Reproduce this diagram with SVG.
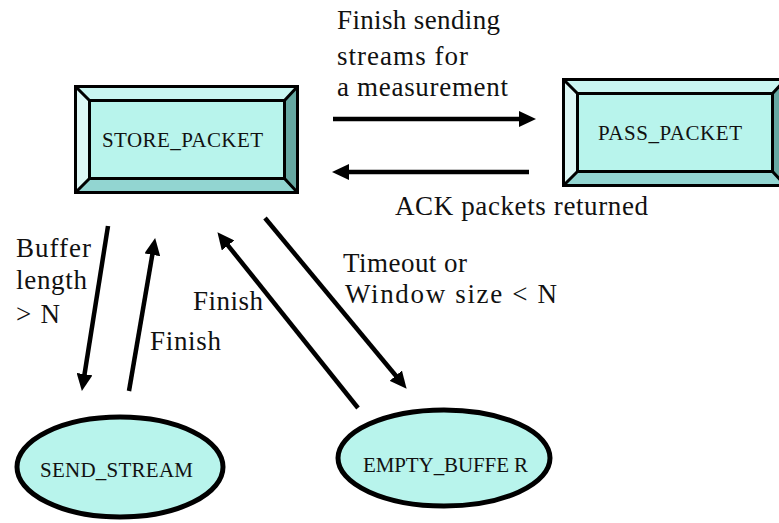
<svg xmlns="http://www.w3.org/2000/svg" xmlns:xlink="http://www.w3.org/1999/xlink" width="779" height="523" viewBox="0 0 779 523">
<style>
text{font-family:"Liberation Serif","Times New Roman",serif;fill:#111}
.lbl{font-size:27px}
.nd{font-size:21px}
.edge{stroke:#000;stroke-width:4.5;fill:none;marker-end:url(#ah)}
.ell{fill:#b8f4ec;stroke:#000;stroke-width:5}
</style>
<defs>
<marker id="ah" markerUnits="userSpaceOnUse" markerWidth="18" markerHeight="16" refX="6" refY="8" orient="auto" viewBox="0 0 18 16">
<path d="M0,0 L17,8 L0,16 z" fill="#000"/>
</marker>
<g id="bevel">
<rect x="0" y="0" width="222" height="106" fill="#b8f4ec"/>
<polygon points="0,0 222,0 209,14 14,14" fill="#c9f6f1"/>
<polygon points="0,0 14,14 14,92 0,106" fill="#ddf8f6"/>
<polygon points="222,0 222,106 209,92 209,14" fill="#66a8a2"/>
<polygon points="0,106 14,92 209,92 222,106" fill="#92d5d1"/>
<rect x="14" y="14" width="195" height="78" fill="#b8f4ec" stroke="#000" stroke-width="3"/>
<path d="M0,0 L14,14 M222,0 L209,14 M0,106 L14,92 M222,106 L209,92" stroke="#000" stroke-width="3"/>
<rect x="0" y="0" width="222" height="106" fill="none" stroke="#000" stroke-width="3"/>
</g>
</defs>

<g id="store_packet">
<use xlink:href="#bevel" transform="translate(75.5,86.5)"/>
<text class="nd" x="102" y="147" textLength="161" lengthAdjust="spacing">STORE_PACKET</text>
</g>

<g id="pass_packet">
<use xlink:href="#bevel" transform="translate(563.5,79.5)"/>
<text class="nd" x="598" y="140" textLength="144" lengthAdjust="spacing">PASS_PACKET</text>
</g>

<g id="send_stream">
<ellipse class="ell" cx="120" cy="467" rx="103" ry="50"/>
<text class="nd" x="40" y="477" textLength="153" lengthAdjust="spacing">SEND_STREAM</text>
</g>

<g id="empty_buffer">
<ellipse class="ell" cx="444" cy="458" rx="106" ry="48"/>
<text class="nd" x="363" y="472" textLength="165" lengthAdjust="spacing">EMPTY_BUFFE R</text>
</g>

<g id="connectors">
<line class="edge" x1="333" y1="119" x2="525" y2="119"/>
<line class="edge" x1="529" y1="172" x2="343" y2="172"/>
<line class="edge" x1="108" y1="226" x2="83.6" y2="380.1"/>
<line class="edge" x1="129" y1="391" x2="153.3" y2="248.9"/>
<line class="edge" x1="358" y1="408" x2="224.3" y2="240.8"/>
<line class="edge" x1="265" y1="218" x2="399.6" y2="380.3"/>
</g>

<g id="labels">
<text class="lbl" x="337" y="29" textLength="163" lengthAdjust="spacing">Finish sending</text>
<text class="lbl" x="337" y="65" textLength="131" lengthAdjust="spacing">streams for</text>
<text class="lbl" x="337" y="96" textLength="171" lengthAdjust="spacing">a measurement</text>
<text class="lbl" x="395" y="215" textLength="253" lengthAdjust="spacing">ACK packets returned</text>
<text class="lbl" x="16" y="257" textLength="75" lengthAdjust="spacing">Buffer</text>
<text class="lbl" x="16" y="289" textLength="71" lengthAdjust="spacing">length</text>
<text class="lbl" x="16" y="323" textLength="44" lengthAdjust="spacing">&gt; N</text>
<text class="lbl" x="150" y="350" textLength="71" lengthAdjust="spacing">Finish</text>
<text class="lbl" x="193" y="310" textLength="70" lengthAdjust="spacing">Finish</text>
<text class="lbl" x="343" y="272" textLength="124" lengthAdjust="spacing">Timeout or</text>
<text class="lbl" x="345" y="303" textLength="212" lengthAdjust="spacing">Window size &lt; N</text>
</g>
</svg>
